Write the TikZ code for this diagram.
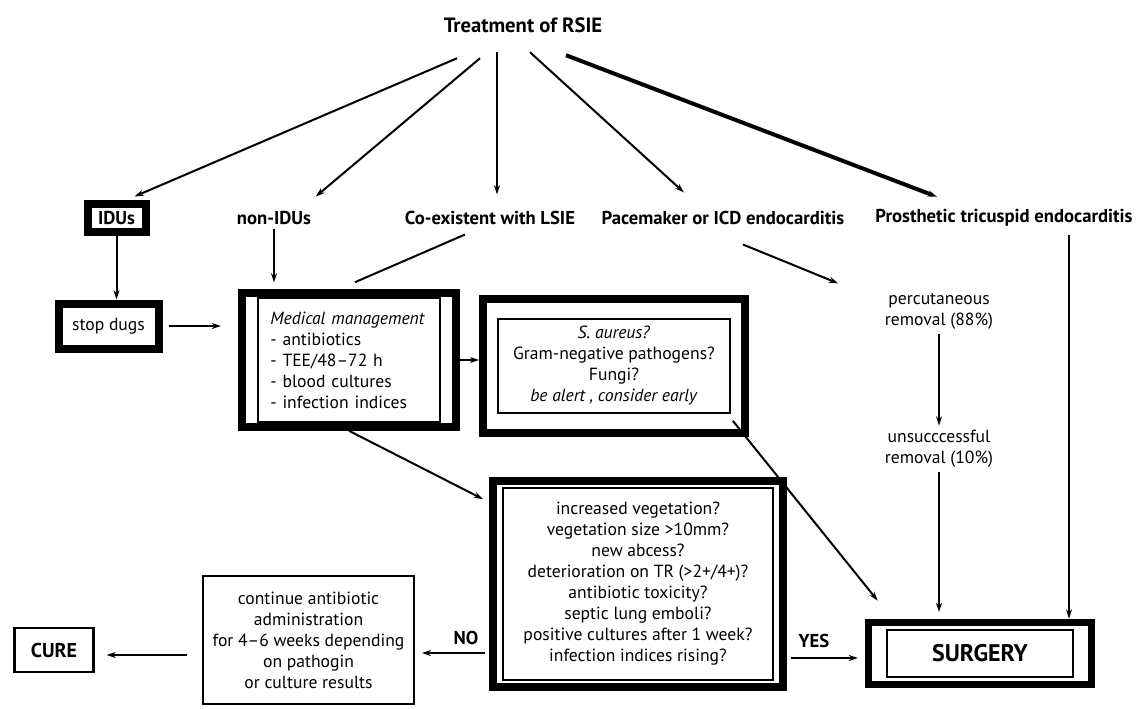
\documentclass[tikz,border=0pt]{standalone}
\usepackage{fontspec}
\setmainfont{PT Sans}
\usetikzlibrary{arrows.meta,fit}

\begin{document}
\begin{tikzpicture}[x=0.75pt,y=-0.75pt,
  every node/.style={font=\fontsize{13.2}{15.75}\selectfont},
  lbl/.style={font=\fontsize{14}{16}\selectfont\bfseries},
  heavybox/.style={draw,line width=6pt,inner sep=0pt},
  thinbox/.style={draw,line width=1.6pt,inner sep=0pt},
  framebox/.style={draw,line width=1.2pt,inner sep=0pt},
  arr/.style={-{Stealth[length=7pt,width=4.5pt]},line width=1.5pt},
  link/.style={line width=1.5pt}]

 \fill[white] (0,0) rectangle (1139,708);
 \useasboundingbox (0,0) rectangle (1139,708);

 \node[font=\fontsize{15.5}{18}\selectfont\bfseries] (title) at (523,25) {Treatment of RSIE};

% second row
 \node[heavybox,lbl,minimum width=43.5pt,minimum height=21pt] (idu) at (116.5,217.5) {IDUs};
 \node[lbl] (nonidu) at (274,218) {non-IDUs};
 \node[lbl] (coex) at (490,218) {Co-existent with LSIE};
 \node[lbl] (pace) at (723,218) {Pacemaker or ICD endocarditis};
 \node[lbl] (pros) at (1004,218) {Prosthetic tricuspid endocarditis};

 \draw[arr] ([shift={(-66,21)}]title.south) -- ([shift={(18,-3)}]idu.north);
 \draw[arr] ([shift={(-43,21)}]title.south) -- ([shift={(0,-10)}]nonidu.north east);
 \draw[arr] ([shift={(-26,15)}]title.south) -- ([shift={(7,-12)}]coex.north);
 \draw[arr] ([shift={(7,15)}]title.south) -- ([shift={(-39,-14)}]pace.north);
 \draw[arr,line width=3pt] ([shift={(43,18)}]title.south) -- ([shift={(-67,-8)}]pros.north);

% left branch
 \node[heavybox,minimum width=75pt,minimum height=33.75pt] (stop) at (108.5,326) {stop dugs};
 \draw[arr] (idu.south) -- (idu.south |- stop.north);
 \draw[arr,shorten <=4.5pt,shorten >=15pt] (stop.east) -- (stop.east -| 241,0);

% medical management
 \node[framebox,minimum width=136.5pt,minimum height=93pt,text width=118pt,align=left] (med) at (349,360)
   {\textit{Medical management}\\- antibiotics\\- TEE/48--72 h\\- blood cultures\\- infection indices};
 \node[heavybox,fit=(med),inner xsep=11.25pt,inner ysep=3pt] (medbox) {};
 \draw[arr,shorten >=5pt] (nonidu.south) -- (nonidu.south |- medbox.north);
 \draw[link] ([shift={(-25,5)}]coex.south) -- ([shift={(6,-7)}]medbox.north);

% pathogens
 \node[framebox,minimum width=174pt,minimum height=70.5pt,align=center] (saur) at (614,366)
   {\textit{S. aureus?}\\Gram-negative pathogens?\\Fungi?\\\textit{be alert , consider early}};
 \node[heavybox,fit=(saur),inner xsep=10.5pt,inner ysep=14.25pt] (saurbox) {};
 \draw[arr] (medbox.east) -- (medbox.east -| saurbox.west);

% devices
 \node[align=center] (perc) at (939,311) {percutaneous\\removal (88\%)};
 \node[align=center] (unsucc) at (939,449) {unsucccessful\\removal (10\%)};
 \draw[arr] ([shift={(20,15)}]pace.south) -- ([shift={(-42,-5)}]perc.north west);
 \draw[arr] (perc) -- (unsucc);

% indications
 \node[framebox,minimum width=202.5pt,minimum height=144pt,align=center] (quest) at (638,584)
   {increased vegetation?\\vegetation size >10mm?\\new abcess?\\deterioration on TR (>2+/4+)?\\antibiotic toxicity?\\septic lung emboli?\\positive cultures after 1 week?\\infection indices rising?};
 \node[heavybox,fit=(quest),inner xsep=6.75pt,inner ysep=4.5pt] (questbox) {};
 \draw[arr] (medbox.south) -- ([shift={(-6,22)}]questbox.north west);

% surgery
 \node[framebox,minimum width=139.5pt,minimum height=35.25pt,font=\fontsize{18}{20}\selectfont\bfseries] (surg) at (980,653.5) {SURGERY};
 \node[heavybox,line width=5.25pt,fit=(surg),inner xsep=13.5pt,inner ysep=5.25pt] (surgbox) {};
 \coordinate (prosdrop) at (1069,235);
 \draw[arr,line width=2pt] (prosdrop) -- (prosdrop |- surgbox.north);
 \draw[arr,shorten >=5pt] (unsucc.south) -- (unsucc.south |- surgbox.north);
 \draw[arr] ([shift={(2,7)}]saur.south east) -- ([shift={(13,-18)}]surgbox.north west);

% outcome
 \node[thinbox,minimum width=158.25pt,minimum height=96pt,align=center] (cont) at (308.5,640)
   {continue antibiotic\\administration\\for 4--6 weeks depending\\on pathogin\\or culture results};
 \node[thinbox,minimum width=59.25pt,minimum height=33pt,font=\fontsize{15}{17}\selectfont\bfseries] (cure) at (54,650) {CURE};

 \draw[arr,shorten <=3pt,shorten >=5pt] (questbox.west |- 0,653) -- (cont.east |- 0,653);
 \node[lbl] (no) at (466,638) {NO};
 \draw[arr,shorten <=3pt,shorten >=5pt] (questbox.east |- 0,658) -- (surgbox.west |- 0,658);
 \node[lbl] (yes) at (814,641) {YES};
 \draw[arr,shorten <=11pt,shorten >=9pt] (cont.west |- 0,655) -- (cure.east |- 0,655);

\end{tikzpicture}
\end{document}
